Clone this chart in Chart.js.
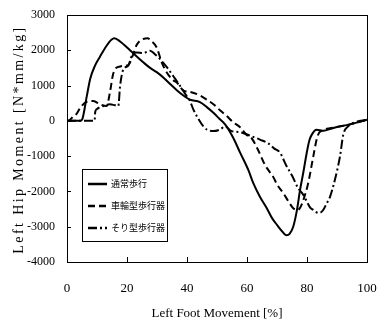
<!DOCTYPE html>
<html>
<head>
<meta charset="utf-8">
<script src="https://cdn.jsdelivr.net/npm/chart.js@4/dist/chart.umd.min.js"></script>
<style>
html,body{margin:0;padding:0;background:#fff;}
canvas{display:block;}
</style>
</head>
<body>
<canvas id="c" width="382" height="327"></canvas>
<script>
// ---- Data ----
const seriesNames = ['通常歩行', '車輪型歩行器', 'そり型歩行器'];
const xTickValues = [0, 20, 40, 60, 80, 100];
const yTickValues = [-4000, -3000, -2000, -1000, 0, 1000, 2000, 3000];

const normalX = [0,4.3,5,6.6,7.7,9.3,11,13.2,14.8,15.8,17.7,21,23.8,25.4,27.7,29.9,32.1,34.3,36.6,38.8,41,44.3,46.6,48.8,50.8,52.7,55.4,57.7,60.4,62.1,64.3,66.6,68.3,70,71.6,73.2,74.2,75.4,76.6,77.7,78.8,79.9,80.8,81.6,83.2,85.4,88.8,94.3,100];
const normalY = [0,0,30,700,1180,1560,1820,2130,2300,2340,2250,2000,1780,1660,1500,1380,1230,1050,870,720,600,530,390,230,60,-100,-480,-900,-1385,-1765,-2150,-2475,-2750,-2950,-3120,-3240,-3200,-3000,-2550,-1950,-1450,-910,-550,-390,-250,-280,-200,-100,30];

const wheelX = [0,0.5,2,3.2,4.5,6.6,8.8,11,13.2,14.3,15.3,16,17.7,19,20.4,22.1,23.2,24.3,25.4,26.8,28.2,29.9,31.6,33.2,35.4,36.6,38.8,41,44.3,46.6,48.8,51,53.2,55.4,57.7,59.9,61.6,63.5,66,68.8,70,72.1,73.8,75.4,76.8,77.8,78.8,80.4,82.1,83.3,84.1,85,86.6,88.8,94.3,100];
const wheelY = [0,0,120,200,380,540,560,470,420,800,1300,1460,1540,1560,1580,1890,2150,2270,2320,2340,2260,2080,1650,1380,1150,1085,860,820,720,600,470,300,140,-40,-180,-400,-500,-790,-1250,-1600,-1800,-2050,-2280,-2475,-2530,-2450,-2240,-1765,-1005,-500,-330,-280,-225,-190,-100,30];

const sledX = [0,9.2,9.4,9.9,12.1,14.3,16,17.1,17.7,18.8,20.4,21.6,23.2,25.4,27.7,29.3,31,33.2,35.4,37.7,39.5,41,42.1,43.5,45.4,46.6,48.8,51,52.7,54.9,57.7,61,64.3,67.1,69,71,73,75,77,78.8,81,82.1,83.8,84.5,85.4,86.6,87.7,89.3,91,92.1,93.8,95.5,100];
const sledY = [0,0,250,330,420,470,440,420,990,1460,1560,1845,1940,1920,1985,1890,1750,1530,1270,990,750,560,325,100,-150,-245,-290,-245,-160,-290,-320,-420,-530,-640,-780,-900,-1250,-1550,-1900,-2100,-2450,-2525,-2610,-2600,-2525,-2335,-2145,-1670,-1005,-390,-150,-55,30];

const dashPatterns = [[], [7, 4], [9, 3, 2, 3]];

function pts(xs, ys) { return xs.map((x, i) => ({ x: x, y: ys[i] })); }
const seriesData = [pts(normalX, normalY), pts(wheelX, wheelY), pts(sledX, sledY)];

const SERIF = '"Liberation Serif", "DejaVu Serif", serif';
const CJK = '"Noto Sans CJK JP", sans-serif';

const decor = {
  id: 'decor',
  afterDraw(chart) {
    const ctx = chart.ctx;
    const a = chart.chartArea;
    const xs = chart.scales.x, ys = chart.scales.y;
    ctx.save();
    ctx.strokeStyle = '#000';
    ctx.lineWidth = 1;
    ctx.setLineDash([]);
    // frame
    ctx.strokeRect(Math.round(a.left) + 0.5, Math.round(a.top) + 0.5, Math.round(a.right - a.left), Math.round(a.bottom - a.top));
    // inward ticks
    ctx.beginPath();
    yTickValues.forEach(v => {
      const y = Math.round(ys.getPixelForValue(v)) + 0.5;
      ctx.moveTo(a.left, y); ctx.lineTo(a.left + 4, y);
    });
    xTickValues.forEach(v => {
      const x = Math.round(xs.getPixelForValue(v)) + 0.5;
      ctx.moveTo(x, a.bottom); ctx.lineTo(x, a.bottom - 5);
    });
    ctx.stroke();

    // y axis title with letter spacing
    ctx.save();
    ctx.translate(19, (a.top + a.bottom) / 2 + 1);
    ctx.rotate(-Math.PI / 2);
    ctx.font = '14px ' + SERIF;
    ctx.fillStyle = '#000';
    ctx.textAlign = 'center';
    ctx.textBaseline = 'middle';
    try { ctx.letterSpacing = '2.4px'; } catch (e) {}
    ctx.fillText('Left Hip Moment [N*mm/kg]', 0, 0);
    ctx.restore();

    // legend box
    const bx = 82, by = 169, bw = 85, bh = 72;
    ctx.fillStyle = '#fff';
    ctx.fillRect(bx, by, bw, bh);
    ctx.strokeStyle = '#000';
    ctx.lineWidth = 1;
    ctx.strokeRect(bx + 0.5, by + 0.5, bw, bh);
    const rows = [184, 206, 228];
    chart.data.datasets.forEach((ds, i) => {
      const y = rows[i];
      ctx.beginPath();
      ctx.lineWidth = 2.5;
      ctx.setLineDash(ds.borderDash || []);
      ctx.moveTo(88, y); ctx.lineTo(107, y);
      ctx.stroke();
      ctx.setLineDash([]);
      ctx.fillStyle = '#000';
      ctx.font = '9px ' + CJK;
      ctx.textAlign = 'left';
      ctx.textBaseline = 'middle';
      ctx.fillText(ds.label, 111, y);
    });
    ctx.restore();
  }
};

const datasets = seriesNames.map((name, i) => ({
  label: name,
  data: seriesData[i],
  borderColor: '#000',
  backgroundColor: '#000',
  borderWidth: 2,
  borderDash: dashPatterns[i],
  pointRadius: 0,
  fill: false,
  cubicInterpolationMode: 'monotone'
}));

new Chart(document.getElementById('c'), {
  type: 'line',
  data: { datasets: datasets },
  options: {
    responsive: false,
    animation: false,
    layout: { padding: { left: 0, right: 15, top: 15, bottom: 0 } },
    plugins: { legend: { display: false }, tooltip: { enabled: false } },
    scales: {
      x: {
        type: 'linear',
        min: 0, max: 100,
        afterBuildTicks: s => { s.ticks = xTickValues.map(v => ({ value: v })); },
        afterFit: s => { s.height = 65; s.paddingLeft = 0; s.paddingRight = 0; },
        grid: { display: false },
        border: { display: true, color: '#000', width: 1 },
        ticks: { color: '#000', font: { family: SERIF, size: 13 }, padding: 11, maxRotation: 0, autoSkip: false, callback: v => String(v) },
        title: { display: true, text: 'Left Foot Movement [%]', color: '#000', font: { family: SERIF, size: 13 }, padding: { top: 0, bottom: 6 } }
      },
      y: {
        type: 'linear',
        min: -4000, max: 3000,
        afterBuildTicks: s => { s.ticks = yTickValues.map(v => ({ value: v })); },
        afterFit: s => { s.width = 67; s.paddingTop = 0; s.paddingBottom = 0; },
        grid: { display: false },
        border: { display: true, color: '#000', width: 1 },
        ticks: { color: '#000', font: { family: SERIF, size: 12 }, padding: 4, autoSkip: false, callback: v => String(v) }
      }
    }
  },
  plugins: [decor]
});
</script>
</body>
</html>
